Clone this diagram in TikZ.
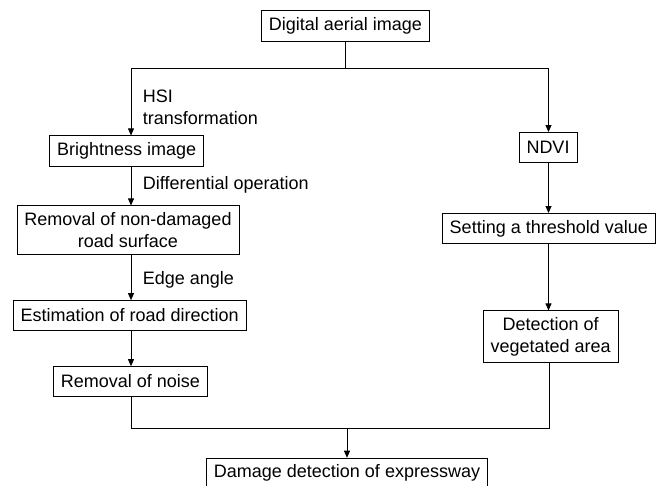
\documentclass[tikz,border=0pt]{standalone}
\usepackage{fontspec}
\setmainfont{Liberation Sans}
\usepackage{tikz}
\usetikzlibrary{arrows.meta,positioning}

\tikzset{
  box/.style={draw, line width=0.8pt, inner xsep=7.5pt, inner ysep=6.8pt,
    minimum height=29.5pt, align=center},
  lbl/.style={anchor=west, inner sep=0pt, align=left}
}

\begin{document}
\begin{tikzpicture}[x=1pt, y=-1pt, line width=0.8pt, >={Triangle[length=7pt,width=6pt]},
  font=\fontsize{18}{21.5}\selectfont]
	\useasboundingbox (0,0) rectangle (666,485);
	% left branch
	\node[box] (img) at (345.3,26)   {Digital aerial image};
	\node[box] (bri) at (126.7,151)  {Brightness image};
	\node[box] (rem) at (128,230)    {Removal of non-damaged\\road surface};
	\node[box] (est) at (129.7,315.3){Estimation of road direction};
	\node[box] (noi) at (130.3,381.3){Removal of noise};
	% right branch
	\node[box] (ndvi) at (548,147.2) {NDVI};
	\node[box] (thr)  at (548.8,228.6){Setting a threshold value};
	\node[box] (veg)  at (550.7,336.8){Detection of\\vegetated area};
	% result
	\node[box, anchor=north] (dmg) at (347,457.7) {Damage detection of expressway};

	\coordinate (splitL) at (131,68);
	\coordinate (splitR) at (548.5,68);
	\coordinate (joinL)  at (131,428.3);
	\coordinate (joinR)  at (549,428.3);

	\draw (img.south) -- (img.south |- splitL);
	\draw[->] (img.south |- splitL) -- (splitL) -- (splitL |- bri.north);
	\draw[->] (img.south |- splitR) -- (splitR) -- (splitR |- ndvi.north);
	\draw[->] (bri.south -| splitL) -- (splitL |- rem.north);
	\draw[->] (rem.south -| splitL) -- (splitL |- est.north);
	\draw[->] (est.south -| splitL) -- (splitL |- noi.north);
	\draw[->] (ndvi.south -| splitR) -- (splitR |- thr.north);
	\draw[->] (thr.south -| splitR) -- (splitR |- veg.north);
	\draw (noi.south -| joinL) -- (joinL) -- (joinR) -- (veg.south -| joinR);
	\draw[->] (dmg.north |- joinL) -- (dmg.north);

	\node[lbl] (hsi)  at (142.5,107.5) {HSI\\transformation};
	\node[lbl] (diff) at (142.5,185)   {Differential operation};
	\node[lbl] (edge) at (142.5,280)   {Edge angle};
\end{tikzpicture}
\end{document}
